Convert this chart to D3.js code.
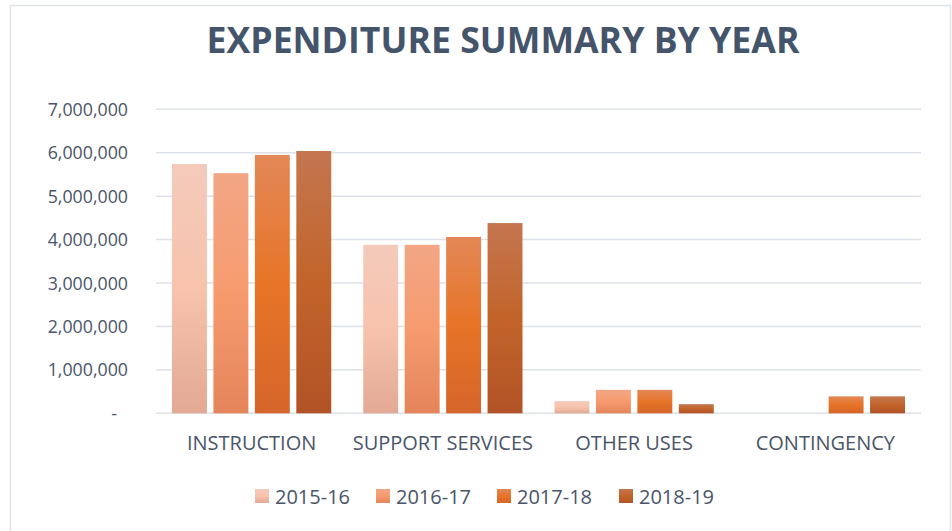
<!DOCTYPE html>
<html>
<head>
<meta charset="utf-8">
<script src="https://cdn.jsdelivr.net/npm/d3@7"></script>
<style>
  body { margin: 0; background: #fff; }
  text { font-family: "Open Sans", sans-serif; fill: #4a5568; }
</style>
</head>
<body>
<svg id="chart" width="952" height="531"></svg>
<script>
const categories = ['INSTRUCTION', 'SUPPORT SERVICES', 'OTHER USES', 'CONTINGENCY'];
const years = ['2015-16', '2016-17', '2017-18', '2018-19'];
// one array per year, in category order
const fy1516 = [5740000, 3880000, 280000, 0];
const fy1617 = [5530000, 3880000, 540000, 0];
const fy1718 = [5950000, 4060000, 540000, 390000];
const fy1819 = [6040000, 4380000, 210000, 390000];
const yTicks = [0, 1000000, 2000000, 3000000, 4000000, 5000000, 6000000, 7000000];

const series = [fy1516, fy1617, fy1718, fy1819];
// top, middle, bottom colour of each year's gradient
const shades = [
  ['#f4cabb', '#f7c3ac', '#e2a994'],
  ['#f2a685', '#f79b6f', '#e4845a'],
  ['#e38857', '#e77427', '#d5652a'],
  ['#c47650', '#c2642a', '#b25327']
];

const svg = d3.select('#chart');

// outer frame
svg.append('rect')
  .attr('x', 10.5).attr('y', 5.5)
  .attr('width', 940).attr('height', 540)
  .attr('fill', 'none')
  .attr('stroke', '#dfe3ea')
  .attr('stroke-width', 1.5);

const defs = svg.append('defs');
shades.forEach(function (c, i) {
  const g = defs.append('linearGradient')
    .attr('id', 'grad' + i)
    .attr('x1', 0).attr('y1', 0).attr('x2', 0).attr('y2', 1);
  g.append('stop').attr('offset', '0%').attr('stop-color', c[0]);
  g.append('stop').attr('offset', '50%').attr('stop-color', c[1]);
  g.append('stop').attr('offset', '100%').attr('stop-color', c[2]);
});

const x = d3.scaleBand().domain(categories).range([156, 921]);
const xInner = d3.scaleBand().domain(years)
  .range([16, x.bandwidth() - 16])
  .paddingInner(0.157);
const y = d3.scaleLinear().domain([0, 7000000]).range([413.3, 109.3]);

// title
svg.append('text')
  .attr('x', 503).attr('y', 53)
  .attr('text-anchor', 'middle')
  .attr('textLength', 593)
  .attr('lengthAdjust', 'spacingAndGlyphs')
  .style('font-size', '35px')
  .style('font-weight', 'bold')
  .style('fill', '#44546a')
  .text('EXPENDITURE SUMMARY BY YEAR');

// gridlines
svg.append('g')
  .selectAll('line')
  .data(yTicks)
  .join('line')
  .attr('x1', 156).attr('x2', 921)
  .attr('y1', d => y(d)).attr('y2', d => y(d))
  .attr('stroke', '#dde1e8')
  .attr('stroke-width', 1.5);

// y axis labels
const fmt = d3.format(',');
svg.append('g')
  .selectAll('text')
  .data(yTicks)
  .join('text')
  .attr('x', d => d === 0 ? 117 : 128)
  .attr('y', d => y(d) + 6.5)
  .attr('text-anchor', 'end')
  .style('font-size', '17.8px')
  .text(d => d === 0 ? '-' : fmt(d));

// bars
const groups = svg.append('g')
  .selectAll('g')
  .data(categories)
  .join('g')
  .attr('transform', d => 'translate(' + x(d) + ',0)');

groups.selectAll('rect')
  .data((cat, ci) => series.map((s, si) => ({ year: years[si], idx: si, value: s[ci] })))
  .join('rect')
  .filter(d => d.value > 0)
  .attr('x', d => xInner(d.year))
  .attr('width', xInner.bandwidth())
  .attr('y', d => y(d.value))
  .attr('height', d => y(0) - y(d.value))
  .attr('fill', d => 'url(#grad' + d.idx + ')');

// category labels
svg.append('g')
  .selectAll('text')
  .data(categories)
  .join('text')
  .attr('x', d => x(d) + x.bandwidth() / 2)
  .attr('y', 450)
  .attr('text-anchor', 'middle')
  .style('font-size', '20px')
  .text(d => d);

// legend
const legendX = [255, 376, 497, 619];
const legend = svg.append('g')
  .selectAll('g')
  .data(years)
  .join('g')
  .attr('transform', (d, i) => 'translate(' + legendX[i] + ',489)');
legend.append('rect')
  .attr('width', 14).attr('height', 14)
  .attr('fill', (d, i) => 'url(#grad' + i + ')');
legend.append('text')
  .attr('x', 20).attr('y', 14.5)
  .style('font-size', '20px')
  .text(d => d);
</script>
</body>
</html>
